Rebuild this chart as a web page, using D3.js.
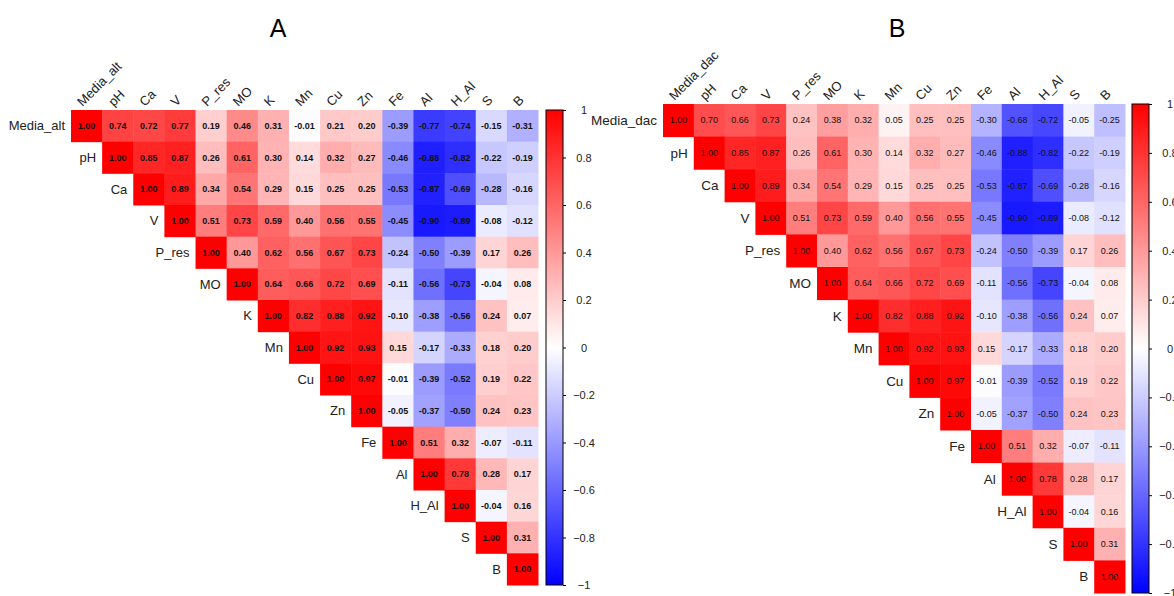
<!DOCTYPE html>
<html>
<head>
<meta charset="utf-8">
<script src="https://cdn.jsdelivr.net/npm/d3@7"></script>
<style>
  body { margin: 0; background: #fff; }
  text { font-family: "Liberation Sans", Arial, sans-serif; }
</style>
</head>
<body>
<svg id="chart" width="1174" height="596"></svg>
<script>
// variable names (panel A / panel B differ only in first one)
const namesA = ['Media_alt', 'pH', 'Ca', 'V', 'P_res', 'MO', 'K', 'Mn', 'Cu', 'Zn', 'Fe', 'Al', 'H_Al', 'S', 'B'];
const namesB = ['Media_dac', 'pH', 'Ca', 'V', 'P_res', 'MO', 'K', 'Mn', 'Cu', 'Zn', 'Fe', 'Al', 'H_Al', 'S', 'B'];

// first row of each matrix
const mediaAlt = [1.00, 0.74, 0.72, 0.77, 0.19, 0.46, 0.31, -0.01, 0.21, 0.20, -0.39, -0.77, -0.74, -0.15, -0.31];
const mediaDac = [1.00, 0.70, 0.66, 0.73, 0.24, 0.38, 0.32, 0.05, 0.25, 0.25, -0.30, -0.68, -0.72, -0.05, -0.25];

// rows shared by both panels (upper triangle, starting at diagonal)
const sharedRows = [
  [1.00, 0.85, 0.87, 0.26, 0.61, 0.30, 0.14, 0.32, 0.27, -0.46, -0.88, -0.82, -0.22, -0.19],
  [1.00, 0.89, 0.34, 0.54, 0.29, 0.15, 0.25, 0.25, -0.53, -0.87, -0.69, -0.28, -0.16],
  [1.00, 0.51, 0.73, 0.59, 0.40, 0.56, 0.55, -0.45, -0.90, -0.89, -0.08, -0.12],
  [1.00, 0.40, 0.62, 0.56, 0.67, 0.73, -0.24, -0.50, -0.39, 0.17, 0.26],
  [1.00, 0.64, 0.66, 0.72, 0.69, -0.11, -0.56, -0.73, -0.04, 0.08],
  [1.00, 0.82, 0.88, 0.92, -0.10, -0.38, -0.56, 0.24, 0.07],
  [1.00, 0.92, 0.93, 0.15, -0.17, -0.33, 0.18, 0.20],
  [1.00, 0.97, -0.01, -0.39, -0.52, 0.19, 0.22],
  [1.00, -0.05, -0.37, -0.50, 0.24, 0.23],
  [1.00, 0.51, 0.32, -0.07, -0.11],
  [1.00, 0.78, 0.28, 0.17],
  [1.00, -0.04, 0.16],
  [1.00, 0.31],
  [1.00]
];

const colorTicks = [1, 0.8, 0.6, 0.4, 0.2, 0, -0.2, -0.4, -0.6, -0.8, -1];

const svg = d3.select('#chart');
const color = d3.scaleLinear().domain([-1, 0, 1]).range(['#0000ff', '#ffffff', '#ff0000']);

// turn upper triangle rows into cell list
function cells(names, firstRow) {
  const rows = [firstRow].concat(sharedRows);
  const out = [];
  rows.forEach(function (r, i) {
    r.forEach(function (v, k) {
      out.push({ row: names[i], col: names[i + k], value: v });
    });
  });
  return out;
}

function drawPanel(p) {
  const g = svg.append('g');
  const x = d3.scaleBand().domain(p.names).range([p.x0, p.x1]);
  const y = d3.scaleBand().domain(p.names).range([p.y0, p.y1]);
  const data = cells(p.names, p.first);

  // title
  g.append('text')
    .attr('x', p.titleX).attr('y', 37)
    .attr('text-anchor', 'middle')
    .style('font-size', '25px')
    .attr('fill', '#000')
    .text(p.title);

  // cells
  g.selectAll('rect.cell')
    .data(data)
    .join('rect')
    .attr('class', 'cell')
    .attr('x', function (d) { return x(d.col); })
    .attr('y', function (d) { return y(d.row); })
    .attr('width', x.bandwidth() + 0.5)
    .attr('height', y.bandwidth() + 0.5)
    .attr('fill', function (d) { return color(d.value); });

  // numbers
  g.selectAll('text.val')
    .data(data)
    .join('text')
    .attr('class', 'val')
    .attr('x', function (d) { return x(d.col) + x.bandwidth() / 2; })
    .attr('y', function (d) { return y(d.row) + y.bandwidth() / 2; })
    .attr('dy', '0.35em')
    .attr('text-anchor', 'middle')
    .style('font-size', '9px')
    .style('font-weight', p.bold ? 'bold' : 'normal')
    .attr('fill', '#111')
    .text(function (d) { return d.value.toFixed(2); });

  // row labels next to diagonal
  g.selectAll('text.rowlab')
    .data(p.names)
    .join('text')
    .attr('class', 'rowlab')
    .attr('x', function (d) { return x(d) - 6; })
    .attr('y', function (d) { return y(d) + y.bandwidth() / 2; })
    .attr('dy', '0.35em')
    .attr('text-anchor', 'end')
    .style('font-size', p.rowFont + 'px')
    .attr('fill', '#222')
    .text(function (d) { return d; });

  // column labels, rotated
  g.selectAll('text.collab')
    .data(p.names)
    .join('text')
    .attr('class', 'collab')
    .attr('transform', function (d) {
      return 'translate(' + (x(d) + x.bandwidth() / 2 - 4) + ',' + (p.y0 - 3) + ') rotate(-45)';
    })
    .style('font-size', '13px')
    .attr('fill', '#222')
    .text(function (d) { return d; });

  // colour bar
  const cbY = d3.scaleLinear().domain([-1, 1]).range([p.y1, p.y0]);
  const gradId = 'grad' + p.title;
  const grad = svg.append('defs').append('linearGradient')
    .attr('id', gradId)
    .attr('x1', 0).attr('y1', 1).attr('x2', 0).attr('y2', 0);
  [-1, 0, 1].forEach(function (v) {
    grad.append('stop').attr('offset', ((v + 1) / 2 * 100) + '%').attr('stop-color', color(v));
  });
  g.append('rect')
    .attr('x', p.cbX).attr('y', p.y0)
    .attr('width', 17).attr('height', p.y1 - p.y0)
    .attr('fill', 'url(#' + gradId + ')')
    .attr('stroke', '#000').attr('stroke-width', 1);

  const axisG = g.append('g')
    .attr('transform', 'translate(' + (p.cbX + 17) + ',0)')
    .call(d3.axisRight(cbY).tickValues(colorTicks).tickSize(3).tickFormat(d3.format('')));
  axisG.select('.domain').remove();
  axisG.selectAll('text')
    .attr('x', 21)
    .attr('text-anchor', 'middle')
    .style('font-size', '11px')
    .attr('fill', '#222');
  axisG.attr('font-family', null).attr('font-size', null);
}

drawPanel({ title: 'A', titleX: 278, names: namesA, first: mediaAlt,
  x0: 71, x1: 538, y0: 110, y1: 585, cbX: 546, rowFont: 13, bold: true });
drawPanel({ title: 'B', titleX: 897, names: namesB, first: mediaDac,
  x0: 663, x1: 1125, y0: 104, y1: 593, cbX: 1132, rowFont: 13.5, bold: false });
</script>
</body>
</html>
